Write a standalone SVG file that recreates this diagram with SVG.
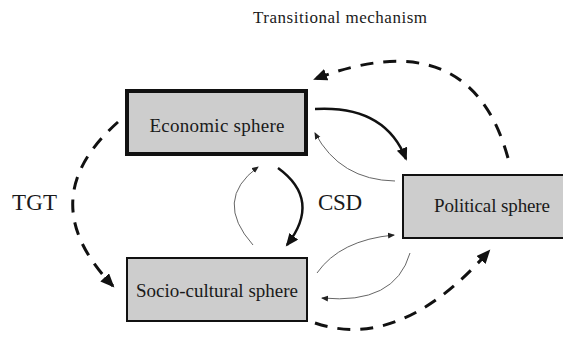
<svg xmlns="http://www.w3.org/2000/svg" width="563" height="338" viewBox="0 0 563 338">
<style>
.box{fill:#cdcdcd;stroke:#111;stroke-width:2}
.lbl{font-size:19px;text-anchor:middle}
.thick{fill:none;stroke:#111;stroke-width:2.5}
.thin{fill:none;stroke:#666;stroke-width:1}
.dash{fill:none;stroke:#111;stroke-width:3;stroke-dasharray:13 10}
</style>
<defs>
<marker id="big" markerUnits="userSpaceOnUse" markerWidth="14" markerHeight="12" refX="11" refY="5.5" orient="auto"><path d="M0,0 L13,5.5 L0,11 z" fill="#111"/></marker>
<marker id="small" markerUnits="userSpaceOnUse" markerWidth="8" markerHeight="8" refX="6" refY="3" orient="auto"><path d="M0,0 L7,3 L0,6 z" fill="#222"/></marker>
<marker id="dbig" markerUnits="userSpaceOnUse" markerWidth="16" markerHeight="14" refX="12" refY="6" orient="auto"><path d="M0,0 L14,6 L0,12 z" fill="#111"/></marker>
</defs>
<g font-family="'Liberation Serif', 'Times New Roman', serif" fill="#1a1a1a">
<text x="340" y="23" font-size="17" text-anchor="middle" textLength="174">Transitional mechanism</text>
</g>
<g id="connectors">
<path class="thick" d="M315,109 Q385,105 406,159" marker-end="url(#big)"/>
<path class="thin" d="M395,181 Q340,180 315,133" marker-end="url(#small)"/>
<path class="thick" d="M278,168 Q322,200 287,245" marker-end="url(#big)"/>
<path class="thin" d="M253,245 Q213,200 258,167" marker-end="url(#small)"/>
<path class="thin" d="M317,273 Q340,240 394,235" marker-end="url(#small)"/>
<path class="thin" d="M410,253 Q395,305 322,298" marker-end="url(#small)"/>
<path class="dash" d="M315,323 Q400,352 489,251" marker-end="url(#dbig)"/>
<path class="dash" d="M508,158 Q470,20 315,79" marker-end="url(#dbig)"/>
<path class="dash" d="M118,122 Q30,200 113,286" marker-end="url(#dbig)"/>
</g>
<g id="economic" font-family="'Liberation Serif', 'Times New Roman', serif" fill="#1a1a1a">
<rect class="box" x="127" y="91" width="179" height="63" style="stroke-width:4"/>
<text class="lbl" x="217" y="132" textLength="135">Economic sphere</text>
</g>
<g id="political" font-family="'Liberation Serif', 'Times New Roman', serif" fill="#1a1a1a">
<rect class="box" x="403" y="175" width="170" height="63"/>
<text class="lbl" x="492" y="212" textLength="116">Political sphere</text>
</g>
<g id="sociocultural" font-family="'Liberation Serif', 'Times New Roman', serif" fill="#1a1a1a">
<rect class="box" x="127" y="258" width="180" height="63"/>
<text class="lbl" x="217" y="297" textLength="162">Socio-cultural sphere</text>
</g>
<g id="labels" font-family="'Liberation Serif', 'Times New Roman', serif" fill="#1a1a1a">
<text x="318" y="210" font-size="23" textLength="44">CSD</text>
<text x="12" y="210" font-size="23" textLength="45">TGT</text>
</g>
</svg>
